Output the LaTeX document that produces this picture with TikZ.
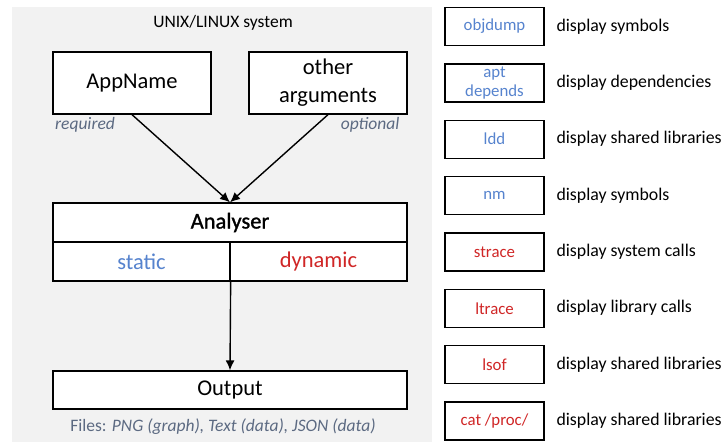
\documentclass[tikz,border=0pt]{standalone}
\usepackage{fontspec}
\setmainfont{Carlito}
\usetikzlibrary{arrows.meta}
\definecolor{fondo}{RGB}{242,242,242}
\definecolor{azul}{RGB}{86,131,206}
\definecolor{rojo}{RGB}{208,38,38}
\definecolor{nota}{RGB}{92,106,130}

\begin{document}
\begin{tikzpicture}[x=1pt, y=-1pt,
	caja/.style={shape=rectangle, draw=black, line width=1.3pt, fill=white, inner sep=0pt, align=center},
	herramienta/.style={caja, minimum width=99pt, minimum height=38pt, font=\fontsize{16.8}{20}\selectfont},
	flecha/.style={line width=1.4pt, -{Latex[length=10pt,width=9pt]}}]
	
	\useasboundingbox (0,0) rectangle (724,442);
	
	% Fondo del sistema
	\fill[fondo] (12,7) rectangle (432,442);
	\node[font=\fontsize{17.5}{20}\selectfont] (Sistema) at (223,23) {UNIX/LINUX system};
	
	% Nodos de entrada
	\node[caja, minimum width=158pt, minimum height=62pt, font=\fontsize{22.5}{28}\selectfont] (AppName) at (132,83) {AppName};
	\node[caja, minimum width=158pt, minimum height=62pt, font=\fontsize{22.5}{28}\selectfont] (Otros) at (328,83) {other\\arguments};
	\node[text=nota, font=\fontsize{17.5}{20}\itshape] (Requerido) at (85,125) {required};
	\node[text=nota, font=\fontsize{17.5}{20}\itshape, anchor=east] (Opcional) at (403,125) {optional};
	
	% Analizador
	\node[caja, minimum width=354pt, minimum height=39pt, font=\fontsize{22.5}{26}\selectfont\addfontfeature{FakeBold=1.2}] (Analyser) at (230,222.5) {Analyser};
	\node[caja, minimum width=177pt, minimum height=39pt, text=azul, font=\fontsize{22.5}{26}\selectfont] (Static) at (141.5,261.5) {static};
	\node[caja, minimum width=177pt, minimum height=39pt, text=rojo, font=\fontsize{22.5}{26}\selectfont] (Dynamic) at (318.5,261.5) {dynamic};
	
	% Salida
	\node[caja, minimum width=354pt, minimum height=38pt, font=\fontsize{22.5}{26}\selectfont] (Output) at (230,390) {Output};
	\node[text=nota, font=\fontsize{17.5}{20}\selectfont] (Archivos) at (223,427) {Files: \textit{PNG (graph), Text (data), JSON (data)}};
	
	% Conexiones
	\draw[flecha] (AppName.south) -- (Analyser.north);
	\draw[flecha] (Otros.south) -- (Analyser.north);
	\draw[flecha] (Static.south east) -- (Output.north);
	
	% Herramientas
	\foreach \i/\nombre/\texto/\col/\desc in {
		0/Objdump/objdump/azul/{display symbols},
		1/Apt/{apt\\[-1pt]depends}/azul/{display dependencies},
		2/Ldd/ldd/azul/{display shared libraries},
		3/Nm/nm/azul/{display symbols},
		4/Strace/strace/rojo/{display system calls},
		5/Ltrace/ltrace/rojo/{display library calls},
		6/Lsof/lsof/rojo/{display shared libraries},
		7/Cat/{cat /proc/}/rojo/{display shared libraries}} {
		\node[herramienta, text=\col] (\nombre) at (494.5,26.5+56.35*\i) {\texto};
		\node[anchor=west, font=\fontsize{17.8}{20}\selectfont] (Desc\nombre) at (553,26.5+56.35*\i) {\desc};
	}
	
\end{tikzpicture}
\end{document}
